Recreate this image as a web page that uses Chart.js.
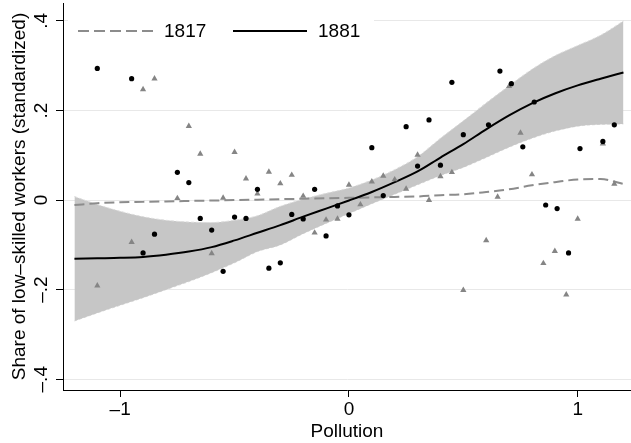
<!DOCTYPE html>
<html lang="en">
<head>
<meta charset="utf-8">
<title>Pollution and low-skilled workers</title>
<script src="https://cdn.jsdelivr.net/npm/chart.js@4.4.1/dist/chart.umd.min.js"></script>
<style>
  body { margin: 0; background: #fff; }
  #wrap { width: 631px; height: 443px; }
</style>
</head>
<body>
<div id="wrap"><canvas id="myChart" width="631" height="443"></canvas></div>
<script>
// fitted curves, every 0.1 on the x axis
var fitX    = [-1.2, -1.1, -1.0, -0.9, -0.8, -0.7, -0.6, -0.5, -0.4, -0.3, -0.2, -0.1, 0,
               0.1, 0.2, 0.3, 0.4, 0.5, 0.6, 0.7, 0.8, 0.9, 1.0, 1.1, 1.2];
var fit1881 = [-0.131, -0.130, -0.129, -0.127, -0.122, -0.115, -0.105, -0.090, -0.073, -0.056, -0.037, -0.019, -0.001,
               0.018, 0.040, 0.064, 0.095, 0.125, 0.158, 0.189, 0.216, 0.238, 0.256, 0.271, 0.285];
var ciUpper = [0.008, -0.010, -0.025, -0.037, -0.045, -0.049, -0.050, -0.045, -0.035, -0.014, 0.002, 0.015, 0.027,
               0.045, 0.068, 0.097, 0.138, 0.177, 0.217, 0.255, 0.292, 0.322, 0.345, 0.368, 0.400];
var ciLower = [-0.270, -0.252, -0.235, -0.218, -0.200, -0.182, -0.162, -0.140, -0.115, -0.100, -0.075, -0.052, -0.030,
               -0.008, 0.013, 0.034, 0.055, 0.073, 0.095, 0.118, 0.138, 0.154, 0.165, 0.169, 0.170];
var fit1817 = [-0.011, -0.007, -0.005, -0.004, -0.003, -0.002, -0.001, 0.000, 0.001, 0.002, 0.003, 0.004, 0.005,
               0.006, 0.007, 0.008, 0.011, 0.013, 0.018, 0.024, 0.033, 0.040, 0.046, 0.047, 0.036];

// observations, 1817 (triangles)
var x1817 = [-1.10, -0.95, -0.90, -0.85, -0.75, -0.70, -0.65, -0.60, -0.55, -0.50, -0.45, -0.40, -0.35, -0.30,
             -0.25, -0.20, -0.15, -0.10, -0.05, 0.00, 0.05, 0.10, 0.15, 0.20, 0.25, 0.30, 0.35, 0.40, 0.45,
             0.50, 0.60, 0.65, 0.70, 0.75, 0.80, 0.85, 0.90, 0.95, 1.00, 1.11, 1.16];
var y1817 = [-0.191, -0.094, 0.247, 0.271, 0.004, 0.165, 0.103, -0.119, 0.005, 0.107, 0.048, 0.014, 0.063, 0.037,
             0.056, 0.009, -0.073, -0.044, -0.042, 0.034, -0.010, 0.041, 0.054, 0.046, 0.025, 0.101, 0.000, 0.053, 0.062,
             -0.201, -0.090, 0.007, 0.254, 0.150, 0.057, -0.141, -0.114, -0.211, -0.042, 0.126, 0.036];

// observations, 1881 (dots)
var x1881 = [-1.10, -0.95, -0.90, -0.85, -0.75, -0.70, -0.65, -0.60, -0.55, -0.50, -0.45, -0.40, -0.35, -0.30,
             -0.25, -0.20, -0.15, -0.10, -0.05, 0.00, 0.10, 0.15, 0.25, 0.30, 0.35, 0.40, 0.45, 0.50,
             0.61, 0.66, 0.71, 0.76, 0.81, 0.86, 0.91, 0.96, 1.01, 1.11, 1.16];
var y1881 = [0.294, 0.271, -0.118, -0.076, 0.062, 0.039, -0.041, -0.067, -0.159, -0.038, -0.041, 0.024, -0.152, -0.140,
             -0.032, -0.042, 0.024, -0.080, -0.013, -0.033, 0.117, 0.010, 0.164, 0.076, 0.179, 0.078, 0.263, 0.146,
             0.168, 0.288, 0.260, 0.119, 0.219, -0.011, -0.019, -0.118, 0.115, 0.131, 0.168];

var seriesNames = ['1817', '1881'];
var xTicks = [-1, 0, 1];
var yTicks = [-0.4, -0.2, 0, 0.2, 0.4];

var FONT = '"Liberation Sans", Arial, Helvetica, sans-serif';

function pairs(xs, ys) {
  return xs.map(function(x, i) { return {x: x, y: ys[i]}; });
}
function stataNum(v) {
  if (v === 0) return '0';
  var s = String(Math.abs(v)).replace(/^0/, '');
  return (v < 0 ? '\u2013' : '') + s;
}

// legend box drawn inside the plot, top left, like the original
var legendBox = {
  id: 'legendBox',
  afterDraw: function(chart) {
    var ctx = chart.ctx;
    ctx.save();
    ctx.fillStyle = '#fff';
    ctx.fillRect(68, 8, 306, 46);
    ctx.lineWidth = 2;
    ctx.strokeStyle = '#8c8c8c';
    ctx.setLineDash([11, 5]);
    ctx.beginPath(); ctx.moveTo(78, 31); ctx.lineTo(155, 31); ctx.stroke();
    ctx.setLineDash([]);
    ctx.strokeStyle = '#000';
    ctx.beginPath(); ctx.moveTo(233, 31); ctx.lineTo(307, 31); ctx.stroke();
    ctx.fillStyle = '#000';
    ctx.font = '19px ' + FONT;
    ctx.textBaseline = 'middle';
    ctx.fillText(seriesNames[0], 164, 32);
    ctx.fillText(seriesNames[1], 318, 32);
    ctx.restore();
  }
};

var ctx = document.getElementById('myChart').getContext('2d');
var chart = new Chart(ctx, {
  type: 'line',
  data: {
    datasets: [
      {
        type: 'scatter', label: seriesNames[1] + ' obs', data: pairs(x1881, y1881),
        pointStyle: 'circle', pointRadius: 2.6, backgroundColor: '#000', borderColor: '#000', borderWidth: 0
      },
      {
        type: 'scatter', label: seriesNames[0] + ' obs', data: pairs(x1817, y1817),
        pointStyle: 'triangle', pointRadius: 3.6, backgroundColor: '#858585', borderColor: '#858585', borderWidth: 0
      },
      {
        label: seriesNames[1], data: pairs(fitX, fit1881),
        borderColor: '#000', borderWidth: 2, pointRadius: 0, fill: false, cubicInterpolationMode: 'monotone'
      },
      {
        label: seriesNames[0], data: pairs(fitX, fit1817),
        borderColor: '#8c8c8c', borderWidth: 2, borderDash: [10, 5], pointRadius: 0, fill: false,
        cubicInterpolationMode: 'monotone'
      },
      {
        label: 'CI upper', data: pairs(fitX, ciUpper),
        borderColor: '#dcdcdc', borderWidth: 1, borderDash: [3, 2], pointRadius: 0,
        backgroundColor: '#c6c6c6', fill: '+1', cubicInterpolationMode: 'monotone'
      },
      {
        label: 'CI lower', data: pairs(fitX, ciLower),
        borderColor: '#dcdcdc', borderWidth: 1, borderDash: [3, 2], pointRadius: 0,
        fill: false, cubicInterpolationMode: 'monotone'
      }
    ]
  },
  options: {
    responsive: false,
    animation: false,
    devicePixelRatio: 1,
    layout: { autoPadding: false, padding: { top: 3, right: 0, left: 0, bottom: 0 } },
    plugins: { legend: { display: false }, tooltip: { enabled: false } },
    scales: {
      x: {
        type: 'linear', min: -1.25, max: 1.233,
        afterFit: function(s) { s.height = 53; s.paddingLeft = 0; s.paddingRight = 0; },
        afterBuildTicks: function(s) { s.ticks = xTicks.map(function(v) { return {value: v}; }); },
        border: { display: true, color: '#000', width: 1 },
        grid: { drawOnChartArea: false, drawTicks: true, tickLength: 7, tickColor: '#000' },
        ticks: {
          color: '#000', padding: 1, maxRotation: 0,
          font: { family: FONT, size: 19 },
          callback: function(v) { return stataNum(v); }
        },
        title: {
          display: true, text: 'Pollution', color: '#000',
          font: { family: FONT, size: 19 }, padding: { top: 0, bottom: 0 }
        }
      },
      y: {
        type: 'linear', min: -0.424, max: 0.44,
        afterFit: function(s) { s.width = 63; s.paddingTop = 0; s.paddingBottom = 0; },
        afterBuildTicks: function(s) { s.ticks = yTicks.map(function(v) { return {value: v}; }); },
        border: { display: true, color: '#000', width: 1 },
        grid: { color: '#e8e8e8', lineWidth: 1, drawTicks: true, tickLength: 7, tickColor: '#000' },
        ticks: {
          color: '#000', padding: 1, minRotation: 90, maxRotation: 90, crossAlign: 'center',
          font: { family: FONT, size: 19 },
          callback: function(v) { return stataNum(v); }
        },
        title: {
          display: true, text: 'Share of low\u2013skilled workers (standardized)', color: '#000',
          font: { family: FONT, size: 19 }, padding: { top: 8, bottom: 0 }
        }
      }
    }
  },
  plugins: [legendBox]
});
</script>
</body>
</html>
